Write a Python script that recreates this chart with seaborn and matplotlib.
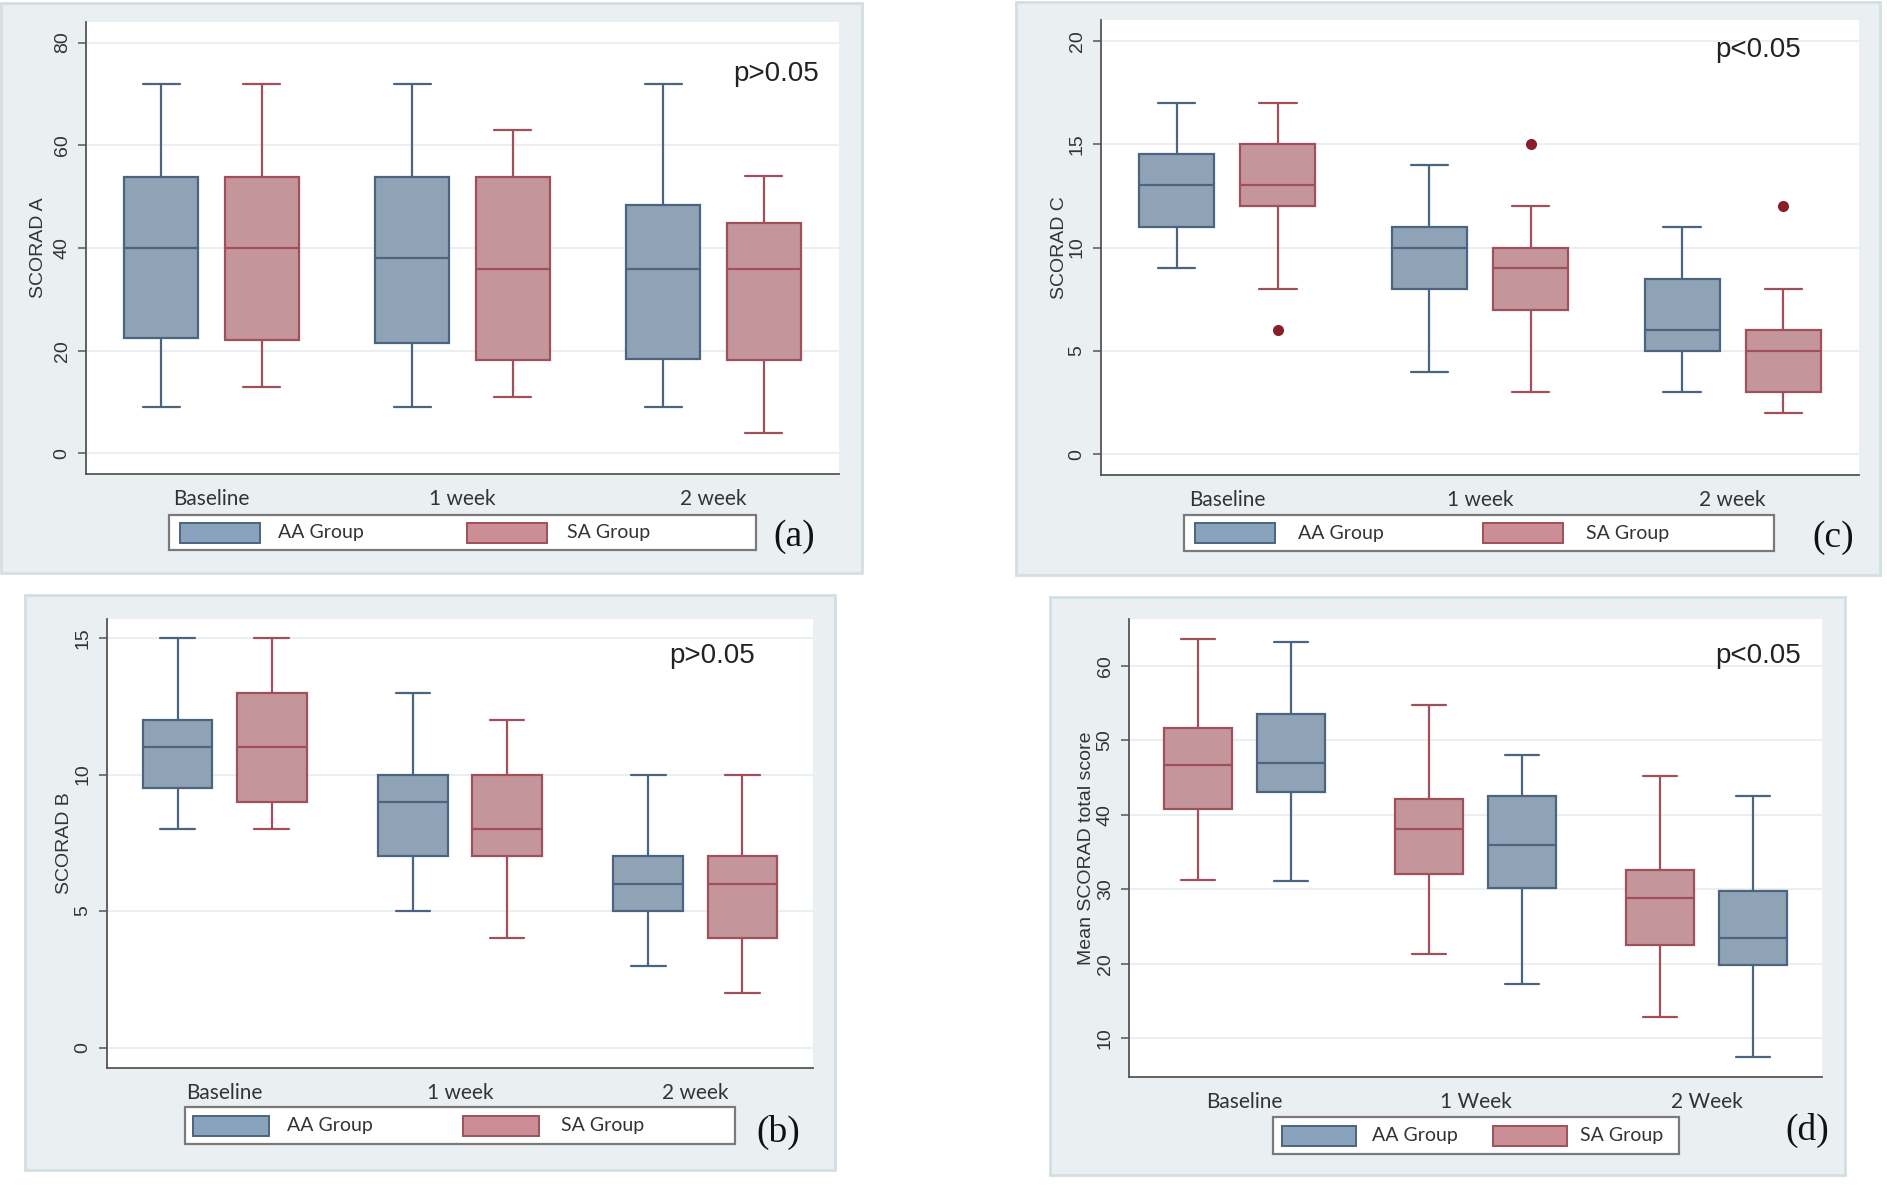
import numpy as np
import pandas as pd
import matplotlib
matplotlib.use("Agg")
import matplotlib.pyplot as plt
from matplotlib.patches import Rectangle
import seaborn as sns

# categories
times_abc = ["Baseline", "1 week", "2 week"]
times_d = ["Baseline", "1 Week", "2 Week"]
groups = ["AA Group", "SA Group"]

# five-number summaries per time point: lower whisker, Q1, median, Q3, upper whisker
scorad_a_aa = [[9, 22.5, 40, 53.8, 72], [9, 21.6, 38, 53.8, 72], [9, 18.4, 36, 48.3, 72]]
scorad_a_sa = [[13, 22, 40, 53.8, 72], [11, 18.2, 36, 53.8, 63], [4, 18.2, 36, 44.8, 54]]
scorad_b_aa = [[8, 9.5, 11, 12, 15], [5, 7, 9, 10, 13], [3, 5, 6, 7, 10]]
scorad_b_sa = [[8, 9, 11, 13, 15], [4, 7, 8, 10, 12], [2, 4, 6, 7, 10]]
scorad_c_aa = [[9, 11, 13, 14.5, 17], [4, 8, 10, 11, 14], [3, 5, 6, 8.5, 11]]
scorad_c_sa = [[8, 12, 13, 15, 17], [3, 7, 9, 10, 12], [2, 3, 5, 6, 8]]
scorad_c_sa_outliers = [6, 15, 12]
total_aa = [[31.1, 43.1, 47.0, 53.5, 63.2], [17.3, 30.2, 35.9, 42.5, 48.1], [7.5, 19.9, 23.5, 29.8, 42.5]]
total_sa = [[31.3, 40.8, 46.7, 51.6, 63.6], [21.3, 32.1, 38.1, 42.1, 54.8], [12.8, 22.5, 28.8, 32.6, 45.2]]

FILL = {"AA Group": "#8aa3bc", "SA Group": "#cc8e95"}
EDGE = {"AA Group": "#4b6580", "SA Group": "#a0505a"}
OUT_COLOR = "#8b1e2b"
FRAME_BG = "#eaf0f2"

W, H = 1887, 1185

sns.set_style("white")
plt.rcParams["font.family"] = ["Liberation Sans", "DejaVu Sans"]


def to_long(times, aa, sa):
    rows = []
    for t, a, s in zip(times, aa, sa):
        for v in a:
            rows.append((t, "AA Group", v))
        for v in s:
            rows.append((t, "SA Group", v))
    return pd.DataFrame(rows, columns=["time", "group", "value"])


def px_rect(x0, y0, x1, y1):
    return [x0 / W, 1 - y1 / H, (x1 - x0) / W, (y1 - y0) / H]


def draw_legend(fig, frame, items):
    x0, y0, x1, y1 = frame
    fig.add_artist(Rectangle((x0 / W, 1 - y1 / H), (x1 - x0) / W, (y1 - y0) / H,
                             transform=fig.transFigure, facecolor="white",
                             edgecolor="#7a7a7a", linewidth=1.6, zorder=3))
    yc = (y0 + y1) / 2
    for px, pw, tx, g in items:
        fig.add_artist(Rectangle((px / W, 1 - (yc + 10) / H), pw / W, 20 / H,
                                 transform=fig.transFigure, facecolor=FILL[g],
                                 edgecolor=EDGE[g], linewidth=1.4, zorder=4))
        fig.text(tx / W, 1 - yc / H, g, ha="left", va="center", fontsize=14,
                 family="Lato", color="#333333", zorder=4)


def draw_panel(fig, frame, axrect, df, order, hue_order, ylim, yticks, ylabel,
               ptext, pxy, letter, lxy, label_x, outliers=None):
    fx0, fy0, fx1, fy1 = frame
    fig.add_artist(Rectangle((fx0 / W, 1 - fy1 / H), (fx1 - fx0) / W, (fy1 - fy0) / H,
                             transform=fig.transFigure, facecolor=FRAME_BG,
                             edgecolor="#d3dfe2", linewidth=2, zorder=-1))
    ax = fig.add_axes(px_rect(*axrect))
    ax.set_facecolor("white")
    for g in hue_order:
        sns.boxplot(data=df[df["group"] == g], x="time", y="value", hue="group",
                    order=order, hue_order=hue_order, palette=FILL,
                    linecolor=EDGE[g], linewidth=1.6, width=0.8, gap=0.26,
                    whis=(0, 100), dodge=True, legend=False, ax=ax)
    if outliers is not None:
        sns.stripplot(data=outliers, x="time", y="value", hue="group",
                      order=order, hue_order=hue_order,
                      palette={g: OUT_COLOR for g in hue_order},
                      dodge=True, jitter=False, size=8, legend=False, ax=ax)
    ax.set_xlim(-0.5, 2.5)
    ax.set_ylim(*ylim)
    ax.set_yticks(yticks)
    ax.yaxis.grid(True, color="#e7ecee", linewidth=1.2)
    ax.set_axisbelow(True)
    for s in ["top", "right"]:
        ax.spines[s].set_visible(False)
    for s in ["left", "bottom"]:
        ax.spines[s].set_color("#555555")
        ax.spines[s].set_linewidth(1.3)
    ax.tick_params(axis="y", length=6, width=1.1, color="#555555", pad=5,
                   labelsize=14, labelcolor="#333333", labelrotation=90, left=True)
    for lab in ax.get_yticklabels():
        lab.set_va("center")
    ax.tick_params(axis="x", length=0, pad=11, labelsize=15, labelcolor="#333333")
    for lab in ax.get_xticklabels():
        lab.set_family("Lato")
    ax.set_xlabel("")
    ax.set_ylabel(ylabel, fontsize=14, color="#333333")
    ax.yaxis.set_label_coords((label_x - axrect[0]) / (axrect[2] - axrect[0]), 0.5)
    fig.text(pxy[0] / W, 1 - pxy[1] / H, ptext, ha="center", va="center",
             fontsize=20, color="#222222")
    fig.text(lxy[0] / W, 1 - lxy[1] / H, letter, ha="center", va="center",
             fontsize=27, family="Liberation Serif", color="#111111")
    return ax


fig = plt.figure(figsize=(W / 100, H / 100), dpi=100)
fig.patch.set_facecolor("white")

# (a) SCORAD A
df_a = to_long(times_abc, scorad_a_aa, scorad_a_sa)
draw_panel(fig, (1, 3, 862, 573), (86, 22, 839, 474), df_a, times_abc, groups,
           (-4, 84), [0, 20, 40, 60, 80], "SCORAD A", "p>0.05", (776, 74),
           "(a)", (794, 537), 47)
draw_legend(fig, (169, 515, 756, 550),
            [(180, 80, 278, "AA Group"), (467, 80, 567, "SA Group")])

# (c) SCORAD C
df_c = to_long(times_abc, scorad_c_aa, scorad_c_sa)
out_c = pd.DataFrame({"time": times_abc, "group": "SA Group", "value": scorad_c_sa_outliers})
draw_panel(fig, (1016, 2, 1880, 575), (1101, 20, 1859, 475), df_c, times_abc, groups,
           (-1, 21), [0, 5, 10, 15, 20], "SCORAD C", "p<0.05", (1758, 50),
           "(c)", (1833, 538), 1068, outliers=out_c)
draw_legend(fig, (1184, 515, 1774, 551),
            [(1195, 80, 1298, "AA Group"), (1483, 80, 1586, "SA Group")])

# (b) SCORAD B
df_b = to_long(times_abc, scorad_b_aa, scorad_b_sa)
draw_panel(fig, (25, 595, 835, 1170), (107, 619, 813, 1068), df_b, times_abc, groups,
           (-0.75, 15.7), [0, 5, 10, 15], "SCORAD B", "p>0.05", (712, 656),
           "(b)", (778, 1132), 73)
draw_legend(fig, (185, 1107, 735, 1144),
            [(193, 76, 287, "AA Group"), (463, 76, 561, "SA Group")])

# (d) Mean SCORAD total score
df_d = to_long(times_d, total_aa, total_sa)
draw_panel(fig, (1050, 597, 1845, 1175), (1129, 619, 1822, 1077), df_d, times_d,
           ["SA Group", "AA Group"], (4.8, 66.3), [10, 20, 30, 40, 50, 60],
           "Mean SCORAD total score", "p<0.05", (1758, 656),
           "(d)", (1807, 1130), 1095)
draw_legend(fig, (1273, 1117, 1679, 1154),
            [(1282, 74, 1372, "AA Group"), (1493, 74, 1580, "SA Group")])

fig.savefig("out.png", dpi=100)
